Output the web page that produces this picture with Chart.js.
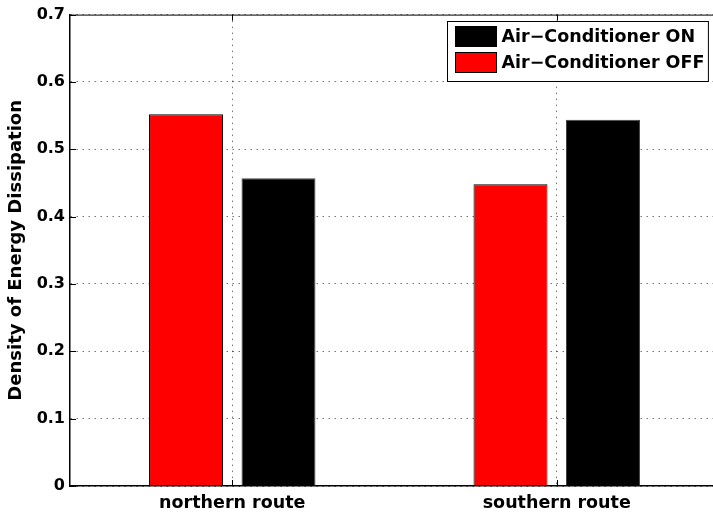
<!DOCTYPE html>
<html>
<head>
<meta charset="utf-8">
<script src="https://cdn.jsdelivr.net/npm/chart.js@4.4.1/dist/chart.umd.min.js"></script>
<style>
  html, body { margin: 0; padding: 0; background: #fff; overflow: hidden; }
  #wrap { width: 713px; height: 518px; overflow: hidden; position: relative; }
  #c { display: block; }
</style>
</head>
<body>
<div id="wrap"><canvas id="c" width="720" height="518"></canvas></div>
<script>
// Route categories and energy dissipation density per air-conditioner state
const routes = ['northern route', 'southern route'];
const acOff = [0.552, 0.448];
const acOn = [0.457, 0.544];
const seriesNames = ['Air\u2212Conditioner OFF', 'Air\u2212Conditioner ON'];
const yMin = 0, yMax = 0.7, yStep = 0.1;

const FONT = '"DejaVu Sans", sans-serif';
const GRID = 'rgba(0,0,0,0.55)';
const GRID_DASH = [1.5, 4.5];

// Box outline, inward tick marks and the boxed legend inside the plot
const boxPlugin = {
  id: 'boxPlugin',
  afterDraw(chart) {
    const { ctx, chartArea: a, scales } = chart;
    ctx.save();
    ctx.strokeStyle = '#000';
    ctx.lineWidth = 1;
    ctx.setLineDash([]);
    // top border
    ctx.beginPath();
    ctx.moveTo(a.left, a.top + 0.5);
    ctx.lineTo(a.right, a.top + 0.5);
    ctx.stroke();
    // inward ticks on the left axis
    const tl = 6;
    scales.y.ticks.forEach(t => {
      const y = Math.round(scales.y.getPixelForValue(t.value)) + 0.5;
      ctx.beginPath();
      ctx.moveTo(a.left, y);
      ctx.lineTo(a.left + tl, y);
      ctx.stroke();
    });
    // inward ticks on bottom and top at category centres
    scales.x.ticks.forEach((t, i) => {
      const x = Math.round(scales.x.getPixelForTick(i)) + 0.5;
      ctx.beginPath();
      ctx.moveTo(x, a.bottom);
      ctx.lineTo(x, a.bottom - tl);
      ctx.moveTo(x, a.top);
      ctx.lineTo(x, a.top + tl);
      ctx.stroke();
    });
    // legend (ON listed first)
    const ds = chart.data.datasets.slice().reverse();
    ctx.font = 'bold 17.5px ' + FONT;
    const textW = Math.max(...ds.map(d => ctx.measureText(d.label).width));
    const x0 = Math.round(a.left + 377) + 0.5;
    const y0 = Math.round(a.top + 6) + 0.5;
    const sw = 41, sh = 20, rowH = 26;
    const w = 8 + sw + 5 + textW + 4;
    const h = 8 + rowH * ds.length;
    ctx.fillStyle = '#fff';
    ctx.fillRect(x0, y0, w, h);
    ctx.strokeRect(x0, y0, w, h);
    ds.forEach((d, i) => {
      const sy = y0 + 5 + i * rowH;
      ctx.fillStyle = d.backgroundColor;
      ctx.fillRect(x0 + 8, sy, sw, sh);
      ctx.strokeRect(x0 + 8, sy, sw, sh);
      ctx.fillStyle = '#000';
      ctx.textBaseline = 'middle';
      ctx.textAlign = 'left';
      ctx.fillText(d.label, x0 + 8 + sw + 5, sy + sh / 2 + 1);
    });
    ctx.restore();
  }
};

new Chart(document.getElementById('c'), {
  type: 'bar',
  data: {
    labels: routes,
    datasets: [
      { label: seriesNames[0], data: acOff, backgroundColor: '#ff0000', borderColor: '#000', borderWidth: 1 },
      { label: seriesNames[1], data: acOn, backgroundColor: '#000000', borderColor: '#444', borderWidth: 1 }
    ]
  },
  options: {
    responsive: false,
    animation: false,
    categoryPercentage: 0.57,
    barPercentage: 0.8,
    layout: { padding: { top: 13, right: 1, bottom: 0, left: 0 } },
    plugins: {
      legend: { display: false },
      tooltip: { enabled: false }
    },
    scales: {
      x: {
        offset: true,
        grid: {
          offset: false,
          drawTicks: false,
          color: GRID,
          lineWidth: 1
        },
        border: { display: true, color: '#000', width: 1.5, dash: GRID_DASH },
        ticks: {
          color: '#000',
          padding: 7,
          font: { family: FONT, size: 17.5, weight: 'bold' }
        },
        afterFit(s) { s.height = 32; }
      },
      y: {
        min: yMin,
        max: yMax,
        grid: {
          drawTicks: false,
          color: GRID,
          lineWidth: 1
        },
        border: { display: true, color: '#000', width: 1.5, dash: GRID_DASH },
        ticks: {
          stepSize: yStep,
          color: '#000',
          padding: 5,
          font: { family: FONT, size: 16, weight: 'bold' },
          callback: v => (v === 0 ? '0' : v.toFixed(1))
        },
        title: {
          display: true,
          text: 'Density of Energy Dissipation',
          color: '#000',
          padding: { top: 6, bottom: 0 },
          font: { family: FONT, size: 18, weight: 'bold', lineHeight: 1.2 }
        },
        afterFit(s) { s.width = 70; }
      }
    }
  },
  plugins: [boxPlugin]
});
</script>
</body>
</html>
